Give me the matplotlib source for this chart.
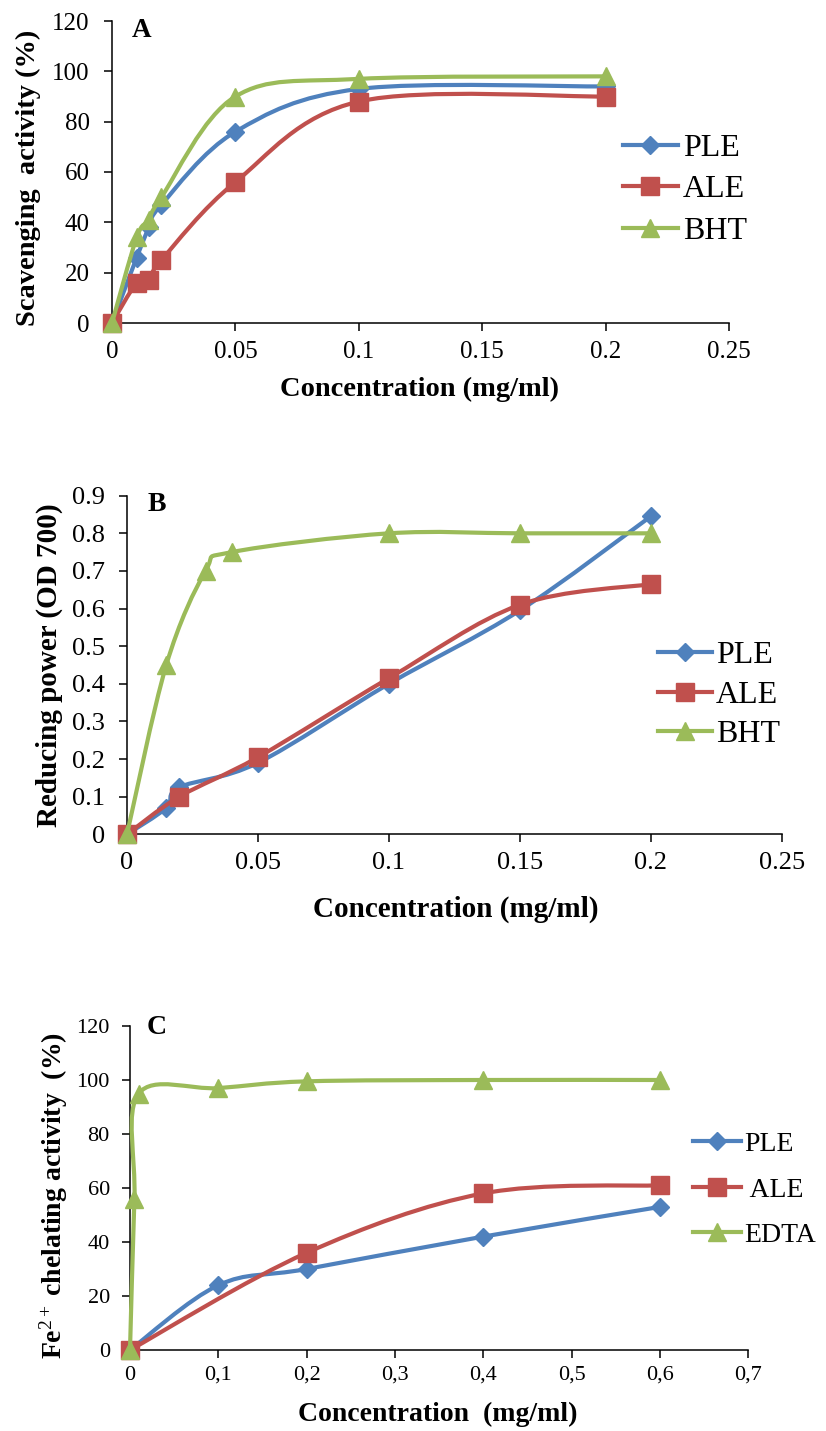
import numpy as np
import matplotlib
matplotlib.use("Agg")
import matplotlib.pyplot as plt
from matplotlib.path import Path
from matplotlib.patches import PathPatch
from matplotlib.lines import Line2D
from matplotlib.ticker import FuncFormatter

plt.rcParams['font.family'] = ['Liberation Serif', 'DejaVu Serif']
plt.rcParams['mathtext.fontset'] = 'custom'
plt.rcParams['mathtext.rm'] = 'Liberation Serif'
plt.rcParams['mathtext.it'] = 'Liberation Serif:italic'
plt.rcParams['mathtext.bf'] = 'Liberation Serif:bold'

# ---------------- data ----------------
# Panel A: DPPH scavenging activity (%)
a_ple_x = [0, 0.01, 0.015, 0.02, 0.05, 0.1, 0.2]
a_ple_y = [0, 26, 38, 47, 76, 93, 94]
a_ale_x = [0, 0.01, 0.015, 0.02, 0.05, 0.1, 0.2]
a_ale_y = [0, 16, 17, 25, 56, 88, 90]
a_bht_x = [0, 0.01, 0.015, 0.02, 0.05, 0.1, 0.2]
a_bht_y = [0, 34, 41, 50, 90, 97, 98]

# Panel B: reducing power (OD 700)
b_ple_x = [0, 0.015, 0.02, 0.05, 0.1, 0.15, 0.2]
b_ple_y = [0, 0.07, 0.125, 0.19, 0.40, 0.595, 0.845]
b_ale_x = [0, 0.02, 0.05, 0.1, 0.15, 0.2]
b_ale_y = [0, 0.10, 0.205, 0.415, 0.61, 0.665]
b_bht_x = [0, 0.015, 0.03, 0.04, 0.1, 0.15, 0.2]
b_bht_y = [0, 0.45, 0.70, 0.75, 0.80, 0.80, 0.80]

# Panel C: Fe2+ chelating activity (%)
c_ple_x = [0, 0.1, 0.2, 0.4, 0.6]
c_ple_y = [0, 24, 30, 42, 53]
c_ale_x = [0, 0.2, 0.4, 0.6]
c_ale_y = [0, 36, 58, 61]
c_edta_x = [0, 0.005, 0.01, 0.1, 0.2, 0.4, 0.6]
c_edta_y = [0, 56, 95, 97, 99.5, 100, 100]

labels_ab = ['PLE', 'ALE', 'BHT']
labels_c = ['PLE', ' ALE', 'EDTA']

a_xticks = [0, 0.05, 0.1, 0.15, 0.2, 0.25]
a_yticks = [0, 20, 40, 60, 80, 100, 120]
b_xticks = [0, 0.05, 0.1, 0.15, 0.2, 0.25]
b_yticks = [0, 0.1, 0.2, 0.3, 0.4, 0.5, 0.6, 0.7, 0.8, 0.9]
c_xticks = [0, 0.1, 0.2, 0.3, 0.4, 0.5, 0.6, 0.7]
c_yticks = [0, 20, 40, 60, 80, 100, 120]

BLUE = '#4F81BD'
RED = '#C0504D'
GREEN = '#9BBB59'
colors = [BLUE, RED, GREEN]
markers = ['D', 's', '^']
msizes = [8.8, 13.0, 13.5]
LW = 3.0

W, H = 826, 1431
fig = plt.figure(figsize=(W / 100, H / 100), dpi=100)


def px_axes(l, r, t, b):
    return fig.add_axes([l / W, 1 - b / H, (r - l) / W, (b - t) / H])


def smooth_path(x, y):
    pts = np.column_stack([x, y]).astype(float)
    n = len(pts)
    verts = [pts[0]]
    codes = [Path.MOVETO]
    for i in range(n - 1):
        p0 = pts[i - 1] if i > 0 else pts[i]
        p1 = pts[i]
        p2 = pts[i + 1]
        p3 = pts[i + 2] if i + 2 < n else pts[i + 1]
        c1 = p1 + (p2 - p0) / 6.0
        c2 = p2 - (p3 - p1) / 6.0
        verts += [c1, c2, p2]
        codes += [Path.CURVE4] * 3
    return Path(verts, codes)


def draw_series(ax, x, y, k):
    patch = PathPatch(smooth_path(x, y), fill=False, edgecolor=colors[k], lw=LW,
                      capstyle='round', joinstyle='round', clip_on=False, zorder=2 + k)
    ax.add_patch(patch)
    ax.plot(x, y, ls='none', marker=markers[k], ms=msizes[k], color=colors[k],
            mec=colors[k], clip_on=False, zorder=2.5 + k)


def style_axes(ax, xt, yt, xlim, ylim, tick_fs, xpad, ypad, fmt=None):
    ax.set_xlim(*xlim)
    ax.set_ylim(*ylim)
    ax.set_xticks(xt)
    ax.set_yticks(yt)
    for s in ['top', 'right']:
        ax.spines[s].set_visible(False)
    for s in ['left', 'bottom']:
        ax.spines[s].set_linewidth(1.1)
    ax.tick_params(axis='both', direction='out', length=6, width=1.1, labelsize=tick_fs)
    ax.tick_params(axis='x', pad=xpad)
    ax.tick_params(axis='y', pad=ypad)
    if fmt is not None:
        ax.xaxis.set_major_formatter(FuncFormatter(fmt))
    else:
        ax.xaxis.set_major_formatter(FuncFormatter(lambda v, p: ('%g' % v)))
        ax.yaxis.set_major_formatter(FuncFormatter(lambda v, p: ('%g' % v)))


def add_legend(ax, labels, anchor, fs, hl, htp, ls):
    handles = [Line2D([0], [0], color=colors[k], lw=LW, marker=markers[k],
                      ms=msizes[k], mec=colors[k]) for k in range(3)]
    ax.legend(handles, labels, loc='upper left', bbox_to_anchor=anchor, frameon=False,
              fontsize=fs, handlelength=hl, handletextpad=htp, labelspacing=ls,
              borderpad=0, borderaxespad=0, numpoints=1)


# ---------------- Panel A ----------------
axA = px_axes(112, 729, 21, 323)
style_axes(axA, a_xticks, a_yticks, (0, 0.25), (0, 120), 18, 7, 10)
draw_series(axA, a_ple_x, a_ple_y, 0)
draw_series(axA, a_ale_x, a_ale_y, 1)
draw_series(axA, a_bht_x, a_bht_y, 2)
axA.set_xlabel('Concentration (mg/ml)', fontsize=20.5, fontweight='bold', va='center')
axA.xaxis.set_label_coords(0.499, -0.2185)
axA.set_ylabel('Scavenging  activity (%)', fontsize=20.5, fontweight='bold', va='center')
axA.yaxis.set_label_coords(-0.136, 0.482)
axA.text(0.032, 0.967, 'A', transform=axA.transAxes, fontsize=19.5, fontweight='bold',
         ha='left', va='center')
add_legend(axA, labels_ab, (0.828, 0.628), 23, 1.72, 0.16, 0.38)

# ---------------- Panel B ----------------
axB = px_axes(127, 781.7, 495.7, 834.3)
style_axes(axB, b_xticks, b_yticks, (0, 0.25), (0, 0.9), 19, 7, 10)
draw_series(axB, b_ple_x, b_ple_y, 0)
draw_series(axB, b_ale_x, b_ale_y, 1)
draw_series(axB, b_bht_x, b_bht_y, 2)
axB.set_xlabel('Concentration (mg/ml)', fontsize=21, fontweight='bold', va='center')
axB.xaxis.set_label_coords(0.5026, -0.2206)
axB.set_ylabel('Reducing power (OD 700)', fontsize=21, fontweight='bold', va='center')
axB.yaxis.set_label_coords(-0.119, 0.498)
axB.text(0.031, 0.975, 'B', transform=axB.transAxes, fontsize=20, fontweight='bold',
         ha='left', va='center')
add_legend(axB, labels_ab, (0.811, 0.571), 23, 1.68, 0.13, 0.32)

# ---------------- Panel C ----------------
axC = px_axes(130, 748.3, 1026, 1350)
style_axes(axC, c_xticks, c_yticks, (0, 0.7), (0, 120), 16, 5.5, 8.5,
           fmt=lambda v, p: ('%g' % v).replace('.', ','))
draw_series(axC, c_ple_x, c_ple_y, 0)
draw_series(axC, c_ale_x, c_ale_y, 1)
draw_series(axC, c_edta_x, c_edta_y, 2)
axC.set_xlabel('Concentration  (mg/ml)', fontsize=20, fontweight='bold', va='center')
axC.xaxis.set_label_coords(0.497, -0.1975)
axC.set_ylabel(r'Fe$^{2+}$ chelating activity  (%)', fontsize=20, fontweight='bold',
               va='center')
axC.yaxis.set_label_coords(-0.123, 0.476)
axC.text(0.027, 0.995, 'C', transform=axC.transAxes, fontsize=20, fontweight='bold',
         ha='left', va='center')
add_legend(axC, labels_c, (0.9106, 0.674), 20, 1.73, 0.1, 0.72)

fig.savefig('out.png', dpi=100)
